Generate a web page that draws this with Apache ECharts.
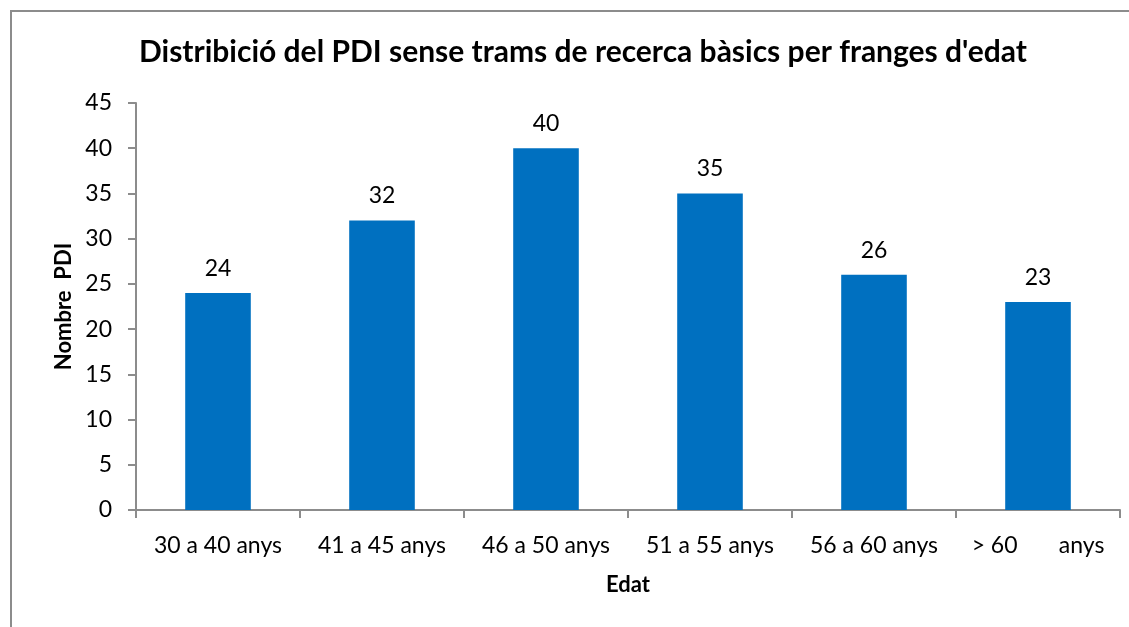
<!DOCTYPE html>
<html>
<head>
<meta charset="utf-8">
<script src="https://cdn.jsdelivr.net/npm/echarts@6/dist/echarts.min.js"></script>
<style>
  html, body { margin: 0; padding: 0; background: #fff; }
  #chart { width: 1129px; height: 627px; }
</style>
</head>
<body>
<div id="chart"></div>
<script>
const categories = ['30 a 40 anys', '41 a 45 anys', '46 a 50 anys', '51 a 55 anys', '56 a 60 anys', '> 60       anys']
const values = [24, 32, 40, 35, 26, 23]
const yTicks = [0, 5, 10, 15, 20, 25, 30, 35, 40, 45]

const font = 'Lato'
const chart = echarts.init(document.getElementById('chart'))

chart.setOption({
  animation: false,
  graphic: [{
    type: 'rect',
    shape: { x: 11, y: 11, width: 1140, height: 640 },
    style: { fill: 'none', stroke: '#8c8c8c', lineWidth: 2 },
    z: -1
  }],
  title: {
    text: 'Distribició del PDI sense trams de recerca bàsics per franges d\'edat',
    left: 578,
    textAlign: 'center',
    top: 32,
    textStyle: { fontFamily: font, fontWeight: 'bold', fontSize: 30, color: '#000' }
  },
  grid: { left: 136, right: 9, top: 103, bottom: 117 },
  xAxis: {
    type: 'category',
    data: categories,
    name: 'Edat',
    nameLocation: 'middle',
    nameGap: 64,
    nameTextStyle: { fontFamily: font, fontWeight: 'bold', fontSize: 22, color: '#000' },
    axisLine: { lineStyle: { color: '#8c8c8c', width: 2 } },
    axisTick: { show: true, length: 8, lineStyle: { color: '#8c8c8c', width: 2 } },
    axisLabel: { fontFamily: font, fontSize: 23, color: '#000', margin: 24, interval: 0 }
  },
  yAxis: {
    type: 'value',
    min: yTicks[0],
    max: yTicks[yTicks.length - 1],
    interval: 5,
    name: 'Nombre  PDI',
    nameLocation: 'middle',
    nameGap: 58,
    nameTextStyle: { fontFamily: font, fontWeight: 'bold', fontSize: 22, color: '#000' },
    splitLine: { show: false },
    axisLine: { show: true, lineStyle: { color: '#8c8c8c', width: 2 } },
    axisTick: { show: true, inside: false, length: 8, lineStyle: { color: '#8c8c8c', width: 2 } },
    axisLabel: { fontFamily: font, fontSize: 23, color: '#000', margin: 24 }
  },
  series: [{
    type: 'bar',
    data: values,
    barWidth: '40%',
    itemStyle: { color: '#0070C0' },
    label: {
      show: true,
      position: 'top',
      distance: 13,
      fontFamily: font,
      fontSize: 23,
      color: '#000'
    }
  }]
})
</script>
</body>
</html>
